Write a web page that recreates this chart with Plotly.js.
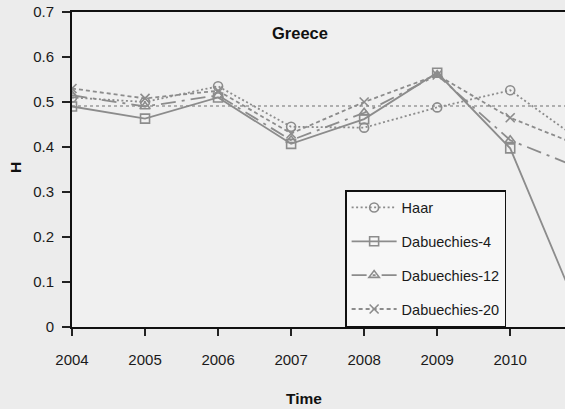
<!DOCTYPE html>
<html>
<head>
<meta charset="utf-8">
<script src="https://cdn.plot.ly/plotly-3.0.1.min.js"></script>
<style>
  html, body { margin: 0; padding: 0; background: #ececec; overflow: hidden; }
  #chart { width: 565px; height: 409px; }
</style>
</head>
<body>
<div id="chart"></div>
<script>
// Hurst exponent estimates for Greece, by wavelet family
const years = [2004, 2005, 2006, 2007, 2008, 2009, 2010, 2011];
const haar = [0.51, 0.50, 0.535, 0.445, 0.443, 0.488, 0.526, 0.41];
const dab4 = [0.49, 0.463, 0.51, 0.407, 0.462, 0.565, 0.397, 0.01];
const dab12 = [0.515, 0.49, 0.515, 0.415, 0.476, 0.56, 0.415, 0.35];
const dab20 = [0.53, 0.508, 0.525, 0.43, 0.50, 0.56, 0.465, 0.40];
const seriesNames = ["Haar", "Dabuechies-4", "Dabuechies-12", "Dabuechies-20"];
const tickYears = [2004, 2005, 2006, 2007, 2008, 2009, 2010];
const refLevel = 0.491;

const grey = "#8c8c8c";
const styles = [
  { dash: "2px,2.5px", symbol: "circle-open" },
  { dash: "solid", symbol: "square-open" },
  { dash: "longdashdot", symbol: "triangle-up-open" },
  { dash: "4px,3px", symbol: "x-thin-open" }
];
const values = [haar, dab4, dab12, dab20];

const traces = values.map((v, i) => ({
  x: years,
  y: v,
  name: seriesNames[i],
  legendgroup: "g" + i,
  type: "scatter",
  mode: "lines+markers",
  line: { color: grey, width: 1.8, dash: styles[i].dash },
  marker: { symbol: styles[i].symbol, size: 9, color: grey, line: { color: grey, width: 1.6 } },
  cliponaxis: true
}));

const font = "Arial, 'Liberation Sans', sans-serif";

const layout = {
  width: 565,
  height: 409,
  paper_bgcolor: "#ececec",
  plot_bgcolor: "#f0f0f0",
  margin: { l: 72, r: 0, t: 12, b: 82 },
  showlegend: true,
  font: { family: font, color: "#222", size: 14 },
  xaxis: {
    range: [2004, 2010.75],
    tickvals: tickYears,
    ticktext: tickYears.map(String),
    ticks: "outside",
    ticklen: 7,
    tickwidth: 1.5,
    tickcolor: "#222",
    showline: true,
    linecolor: "#111",
    linewidth: 2,
    mirror: true,
    showgrid: false,
    zeroline: false,
    tickfont: { size: 15, color: "#1a1a1a" },
    ticklabelstandoff: 11
  },
  yaxis: {
    range: [0, 0.7],
    tickvals: [0, 0.1, 0.2, 0.3, 0.4, 0.5, 0.6, 0.7],
    ticktext: ["0", "0.1", "0.2", "0.3", "0.4", "0.5", "0.6", "0.7"],
    ticks: "outside",
    ticklen: 8,
    tickwidth: 1.5,
    tickcolor: "#222",
    showline: true,
    linecolor: "#111",
    linewidth: 2,
    mirror: false,
    showgrid: false,
    zeroline: false,
    tickfont: { size: 15, color: "#1a1a1a" },
    ticklabelstandoff: 5
  },
  shapes: [{
    type: "line", xref: "paper", x0: 0, x1: 1, yref: "y", y0: refLevel, y1: refLevel,
    line: { color: "#999", width: 1.5, dash: "dot" }, layer: "below"
  }],
  legend: {
    x: 0.554, xanchor: "left",
    y: 0, yanchor: "bottom",
    bgcolor: "#f7f7f7",
    bordercolor: "#111",
    borderwidth: 1.5,
    font: { size: 14.5, color: "#1a1a1a", family: font },
    tracegroupgap: 12,
    itemwidth: 45
  },
  annotations: [
    { text: "<b>Greece</b>", xref: "paper", yref: "paper", x: (300 - 72) / 493, y: (327 - 33) / 315,
      showarrow: false, font: { size: 16.5, color: "#111" }, xanchor: "center", yanchor: "middle" },
    { text: "<b>Time</b>", xref: "paper", yref: "paper", x: (304 - 72) / 493, y: (327 - 398) / 315,
      showarrow: false, font: { size: 15.5, color: "#111" }, xanchor: "center", yanchor: "middle" },
    { text: "<b>H</b>", xref: "paper", yref: "paper", x: (15 - 72) / 493, y: (327 - 168) / 315,
      showarrow: false, textangle: -90, font: { size: 15.5, color: "#111" }, xanchor: "center", yanchor: "middle" }
  ]
};

Plotly.newPlot("chart", traces, layout, { staticPlot: true, displayModeBar: false });
</script>
</body>
</html>
